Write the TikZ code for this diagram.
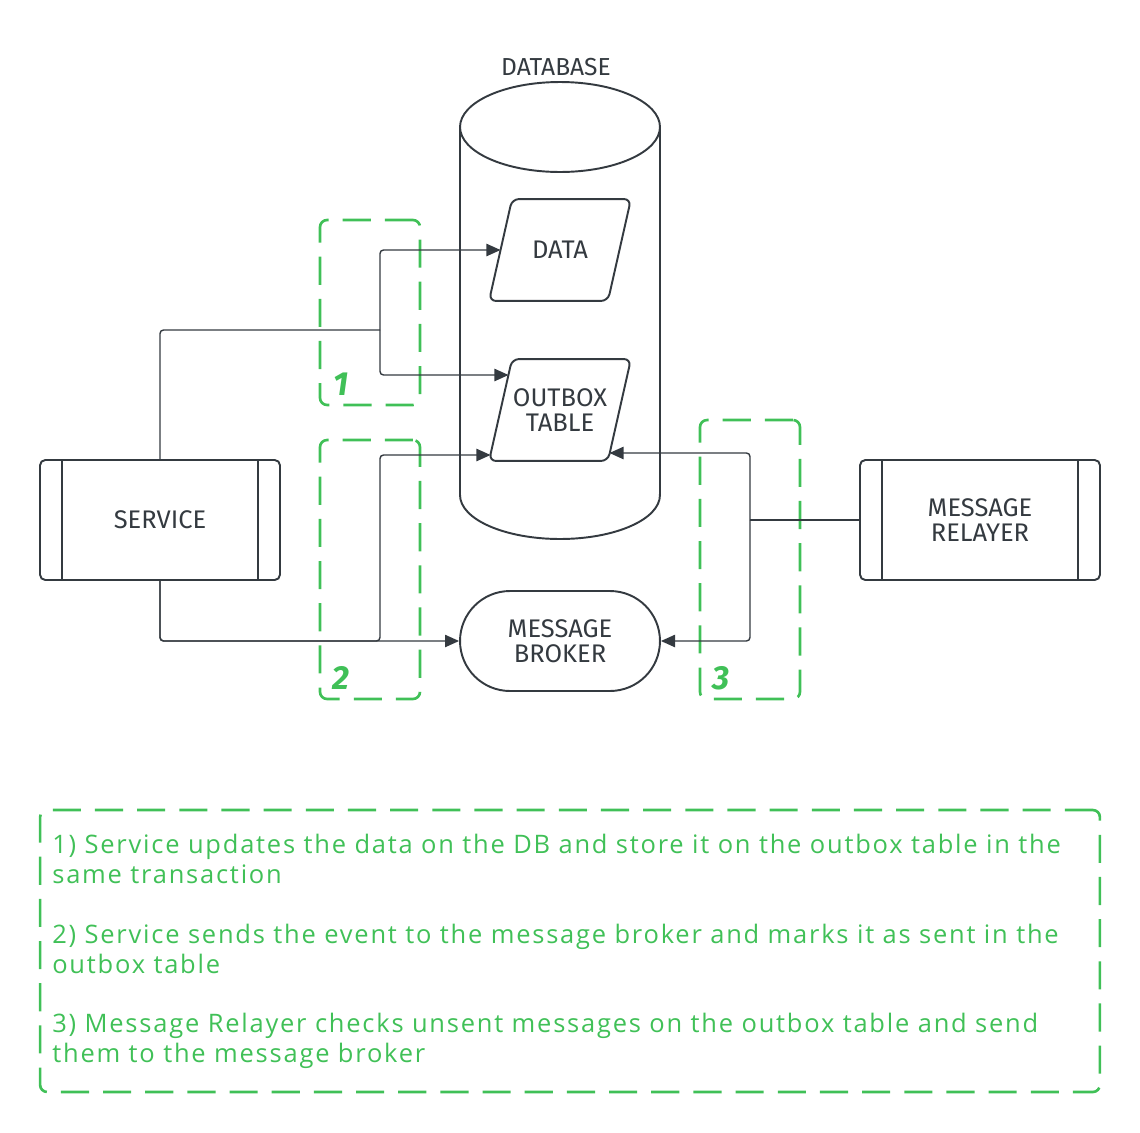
\documentclass[tikz,border=0pt]{standalone}
\usepackage{fontspec}
\setmainfont{Fira Sans}
\newfontfamily\notefont{Open Sans}[LetterSpace=7]
\usetikzlibrary{calc,positioning,arrows.meta,shapes.geometric}
\definecolor{ink}{HTML}{343A40}
\definecolor{grn}{HTML}{40C057}

\begin{document}
\begin{tikzpicture}[x=0.02cm,y=0.02cm,
  box/.style={draw=ink,line width=1.1pt,text=ink,align=center,inner sep=0pt,
    font=\fontsize{14.5}{14}\selectfont},
  proc/.style={box,rounded corners=3pt,minimum width=4.8cm,minimum height=2.4cm},
  slant/.style={box,draw=none,minimum width=2.34cm,minimum height=2cm},
  pill/.style={box,rounded corners=1cm,minimum width=4cm,minimum height=2cm},
  wire/.style={ink,line width=0.8pt,rounded corners=2pt},
  tip/.style={-{Triangle[length=8pt,width=7pt]}},
  group/.style={draw=grn,line width=1.5pt,dash pattern=on 16pt off 8pt,rounded corners=4pt},
  steplabel/.style={text=grn,inner sep=0pt,anchor=south west,
    font=\fontsize{19}{19}\selectfont\bfseries\itshape}
]
  \useasboundingbox (0,0) rectangle (1140,-1133);
  % database
  \draw [ink,line width=1.1pt]
    (460,-127)
    -- (460,-495)
    arc [start angle=180, end angle=360, x radius=2cm, y radius=0.88cm]
    -- (660,-127)
  ;
  \draw [ink,line width=1.1pt] (560,-127) ellipse [x radius=2cm, y radius=0.9cm];
  \node [text=ink,font=\fontsize{14}{14}\selectfont] (dblabel) at (556,-67) {DATABASE};
  \node [slant] (data) at (560,-250) {DATA};
  \node [slant] (outbox) at (560,-410) {OUTBOX\\TABLE};
  \foreach \n in {data,outbox} {
    \draw [ink,line width=1.1pt,rounded corners=4pt]
      ($(\n.south west)+(-11.5,0)$)
      -- ($(\n.north west)+(11.5,0)$)
      -- ($(\n.north east)+(11.5,0)$)
      -- ($(\n.south east)+(-11.5,0)$)
      -- cycle
    ;
  }
  % services
  \node [proc] (service) at (160,-520) {SERVICE};
  \node [proc] (relayer) at (980,-520) {MESSAGE\\RELAYER};
  \foreach \n in {service,relayer} {
    \draw [ink,line width=1.1pt]
      ($(\n.north west)+(23,0)$) -- ($(\n.south west)+(23,0)$);
    \draw [ink,line width=1.1pt]
      ($(\n.north east)+(-23,0)$) -- ($(\n.south east)+(-23,0)$);
  }
  \node [pill] (broker) at (560,-641) {MESSAGE\\BROKER};
  % step groups
  \node [group,minimum width=2cm,minimum height=3.7cm] (grp1) at (370,-312.5) {};
  \node [group,minimum width=2cm,minimum height=5.18cm] (grp2) at (370,-569.5) {};
  \node [group,minimum width=2cm,minimum height=5.58cm] (grp3) at (750,-559.5) {};
  \node [steplabel] (num1) at ($(grp1.south west)+(14,10)$) {1};
  \node [steplabel] (num2) at ($(grp2.south west)+(13,10)$) {2};
  \node [steplabel] (num3) at ($(grp3.south west)+(13,10)$) {3};
  % step 1
  \coordinate (fork1) at (380,-330);
  \draw [wire] (service.north) |- (fork1);
  \draw [wire,tip] (fork1) |- (data.west);
  \draw [wire,tip] (fork1) |- ($(outbox.west)+(8,35)$);
  % step 2
  \coordinate (fork2) at (380,-641);
  \draw [wire,tip] (service.south) |- (broker.west);
  \draw [wire,tip] (service.south) |- (fork2) |- ($(outbox.west)+(-10,-45)$);
  % step 3
  \coordinate (fork3) at (750,-520);
  \draw [wire] (relayer.west) -- (fork3);
  \draw [wire,tip] (fork3) |- ($(outbox.east)+(-10,-43)$);
  \draw [wire,tip] (fork3) |- (broker.east);
  % notes
  \node [group,minimum width=21.2cm,minimum height=5.64cm] (notebox) at (570,-951) {};
  \node [text=grn,align=left,anchor=north west,inner sep=0pt,
    font=\notefont\fontsize{14.5}{17}\selectfont]
    (notes) at (52,-834)
    {1) Service updates the data on the DB and store it on the outbox table in the\\
     same transaction\\[17pt]
     2) Service sends the event to the message broker and marks it as sent in the\\
     outbox table\\[17pt]
     3) Message Relayer checks unsent messages on the outbox table and send\\
     them to the message broker};
\end{tikzpicture}
\end{document}
